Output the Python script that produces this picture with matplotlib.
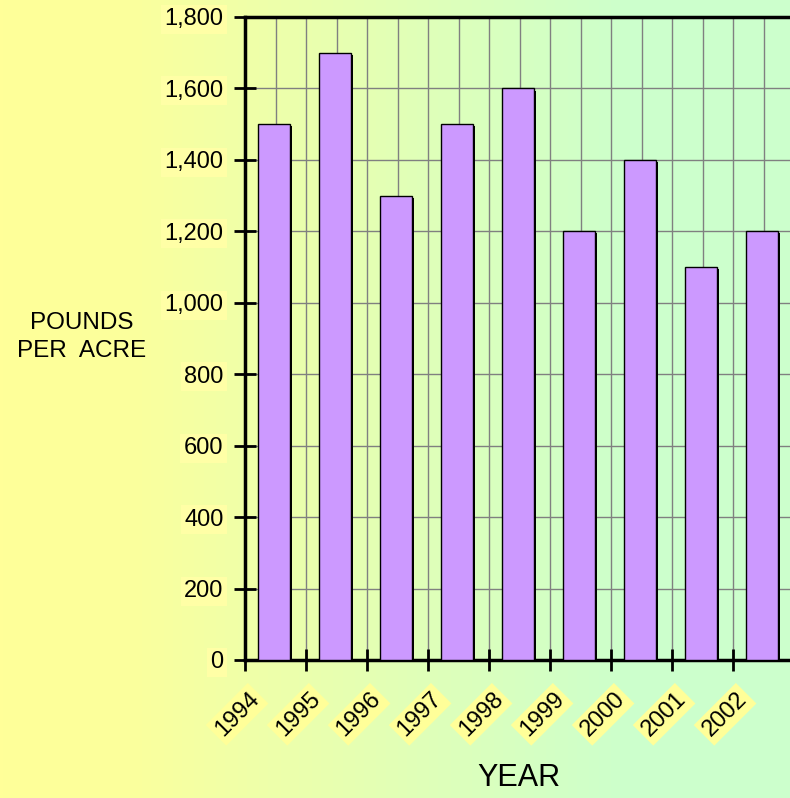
import numpy as np
import matplotlib.pyplot as plt
from matplotlib.colors import LinearSegmentedColormap

plt.rcParams['font.family'] = ['Liberation Sans', 'DejaVu Sans']

years = ["1994", "1995", "1996", "1997", "1998", "1999", "2000", "2001", "2002"]
pounds = [1500, 1700, 1300, 1500, 1600, 1200, 1400, 1100, 1200]
y_ticks = [0, 200, 400, 600, 800, 1000, 1200, 1400, 1600, 1800]

W, H = 790, 798
fig = plt.figure(figsize=(W / 100, H / 100), dpi=100)

# yellow -> pale green background across the whole figure
bg = fig.add_axes([0, 0, 1, 1], zorder=-10)
cmap = LinearSegmentedColormap.from_list(
    "bg", [(0, "#FFFF99"), (0.15, "#FCFF9C"), (0.8, "#CCFFCC"), (1, "#CCFFCC")])
bg.imshow(np.linspace(0, 1, 256)[None, :], aspect="auto", cmap=cmap,
          extent=[0, 1, 0, 1])
bg.set_axis_off()

cat_w = 61.0
left, right = 245, 245 + len(years) * cat_w
top, bottom = 17, 660
ax = fig.add_axes([left / W, 1 - bottom / H, (right - left) / W, (bottom - top) / H])
ax.set_facecolor("none")

x = np.arange(len(years)) + 0.5 - 0.025
vals = np.array(pounds)
bw = 0.52
# drop shadow then bars
ax.bar(x + 2.5 / cat_w, vals - 6, bw, color="black", zorder=2)
ax.bar(x, vals, bw, color="#CC99FF", edgecolor="black", linewidth=1.0, zorder=3)

ax.set_xlim(0, len(years))
ax.set_ylim(0, 1800)
ax.set_yticks(y_ticks)
ax.set_yticklabels([f"{v:,}" for v in y_ticks], fontsize=17)
for lbl in ax.get_yticklabels():
    lbl.set_bbox(dict(boxstyle="square,pad=0.15", fc="#FFFFA6", ec="none"))
ax.set_xticks(np.arange(len(years) + 1))
ax.set_xticks(np.arange(len(years)) + 0.5, minor=True)
ax.set_xticklabels([])

ax.tick_params(axis="both", which="major", direction="inout", length=16,
               width=2, color="black")
ax.tick_params(axis="y", pad=7.5)
ax.tick_params(axis="x", which="minor", length=0)

ax.grid(True, axis="x", which="both", color="#808080", linewidth=1.0, zorder=1)
ax.grid(True, axis="y", which="major", color="#808080", linewidth=1.0, zorder=1)
ax.set_axisbelow(True)

for s in ["left", "top", "bottom"]:
    ax.spines[s].set_linewidth(2.5)
ax.spines["right"].set_visible(False)

for i, yr in enumerate(years):
    ax.text(i - 0.13, -152, yr, rotation=45, ha="center", va="center",
            fontsize=17, clip_on=False,
            bbox=dict(boxstyle="square,pad=0.15", fc="#FFFF99", ec="none"))

fig.text(82 / W, 1 - 337 / H, "POUNDS\nPER  ACRE", ha="center", va="center",
         fontsize=17.5, linespacing=1.35)
fig.text(519 / W, 1 - 778 / H, "YEAR", ha="center", va="center", fontsize=22)

fig.savefig("out.png", dpi=100)
